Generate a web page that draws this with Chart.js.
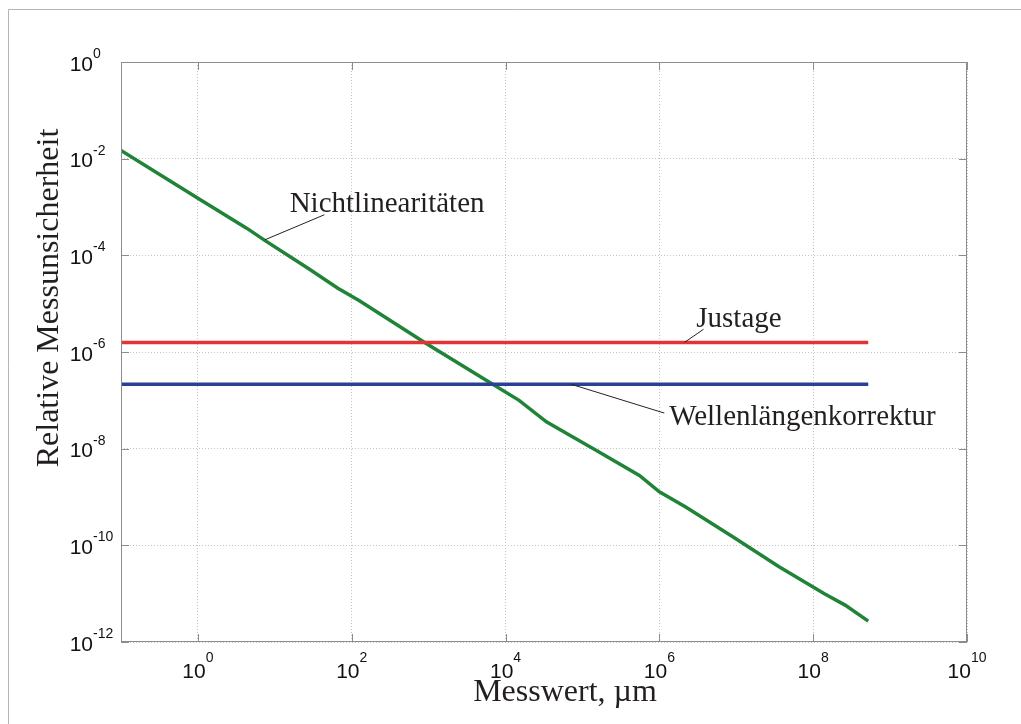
<!DOCTYPE html>
<html>
<head>
<meta charset="utf-8">
<script src="https://cdn.jsdelivr.net/npm/chart.js@4.4.1/dist/chart.umd.min.js"></script>
<style>
    body { margin: 0; background: #fff; }
    #wrap { width: 1021px; height: 724px; }
</style>
</head>
<body>
<div id="wrap"><canvas id="uncertaintyChart" width="1021" height="724"></canvas></div>
<script>
// Measured value in µm and the relative uncertainty of each contribution
const measuredValues = [0.1, 1, 4.3, 7.4, 27, 66, 126, 930, 5600, 15000, 34000, 74000,
    150000, 550000, 1e6, 2.2e6, 9e6, 3.6e7, 1.4e8, 2.6e8, 5.2e8];
const nonlinearity = [1.48e-2, 1.52e-3, 3.65e-4, 2.04e-4, 5.4e-5, 2.08e-5, 1.15e-5, 1.5e-6,
    2.6e-7, 1.0e-7, 3.6e-8, 1.76e-8, 9.3e-9, 2.8e-9, 1.28e-9, 6.2e-10, 1.5e-10, 3.6e-11,
    1.0e-11, 5.8e-12, 2.7e-12];
const adjustmentRange = [0.1, 5.2e8];
const adjustment = [1.58e-6, 1.58e-6];
const wavelengthCorrection = [2.14e-7, 2.14e-7];

// Decade ticks shown on both axes
const xTicks = [1, 1e2, 1e4, 1e6, 1e8, 1e10];
const yTicks = [1, 1e-2, 1e-4, 1e-6, 1e-8, 1e-10, 1e-12];

// Callout labels: text origin, leader start, leader end (data coordinates)
const callouts = [
    { text: 'Nichtlinearitäten', at: [15.6, 8.05e-4], from: [44, 6.9e-4], to: [7.4, 2.09e-4] },
    { text: 'Justage', at: [3.02e6, 3.34e-6], from: [3.75e6, 2.95e-6], to: [2.12e6, 1.58e-6] },
    { text: 'Wellenlängenkorrektur', at: [1.34e6, 3.07e-8], from: [1.16e6, 5.45e-8], to: [7.2e4, 2.14e-7] }
];

const textColor = '#231f20';
const serif = '"Liberation Serif", "Times New Roman", serif';
const sans = '"Liberation Sans", Arial, sans-serif';

function toPoints(xs, ys) {
    return xs.map((x, i) => ({ x: x, y: ys[i] }));
}

function drawPower(ctx, exp, x, y, align) {
    ctx.font = '21px ' + sans;
    const baseW = ctx.measureText('10').width;
    ctx.font = '14px ' + sans;
    const expText = String(exp).replace('-', '-');
    const expW = ctx.measureText(expText).width;
    let left;
    if (align === 'center') left = x - (baseW + expW) / 2;
    else left = x - baseW;
    ctx.textAlign = 'left';
    ctx.textBaseline = 'alphabetic';
    ctx.font = '21px ' + sans;
    ctx.fillText('10', left, y);
    ctx.font = '14px ' + sans;
    ctx.fillText(expText, left + baseW, y - (align === 'center' ? 16.5 : 12.5));
}

const decorations = {
    id: 'decorations',
    afterDraw(chart) {
        const ctx = chart.ctx;
        const area = chart.chartArea;
        const xs = chart.scales.x;
        const ys = chart.scales.y;
        ctx.save();

        // faint page frame
        ctx.strokeStyle = '#b4b4b4';
        ctx.lineWidth = 1;
        ctx.beginPath();
        ctx.moveTo(8.5, 724);
        ctx.lineTo(8.5, 9.5);
        ctx.lineTo(1021, 9.5);
        ctx.stroke();

        // axes box with inward ticks
        ctx.strokeStyle = '#8c8c8c';
        ctx.strokeRect(area.left + 0.5, area.top + 0.5, area.right - area.left - 1, area.bottom - area.top - 1);
        ctx.beginPath();
        xTicks.forEach(v => {
            const px = Math.round(xs.getPixelForValue(v)) + 0.5;
            ctx.moveTo(px, area.bottom);
            ctx.lineTo(px, area.bottom - 8);
            ctx.moveTo(px, area.top);
            ctx.lineTo(px, area.top + 8);
        });
        yTicks.forEach(v => {
            const py = Math.round(ys.getPixelForValue(v)) + 0.5;
            ctx.moveTo(area.left, py);
            ctx.lineTo(area.left + 8, py);
            ctx.moveTo(area.right, py);
            ctx.lineTo(area.right - 8, py);
        });
        ctx.stroke();

        // tick labels as powers of ten
        ctx.fillStyle = '#111';
        xTicks.forEach(v => {
            drawPower(ctx, Math.round(Math.log10(v)), xs.getPixelForValue(v), 678, 'center');
        });
        yTicks.forEach(v => {
            drawPower(ctx, Math.round(Math.log10(v)), 93, ys.getPixelForValue(v) + 8.5, 'left');
        });

        // axis titles
        ctx.fillStyle = textColor;
        ctx.textAlign = 'center';
        ctx.textBaseline = 'alphabetic';
        ctx.font = '32px ' + serif;
        ctx.fillText('Messwert, \u00b5m', 565, 701);
        ctx.save();
        ctx.translate(58, 298);
        ctx.rotate(-Math.PI / 2);
        ctx.font = '32px ' + serif;
        ctx.fillText('Relative Messunsicherheit', 0, 0);
        ctx.restore();

        // callouts with leader lines
        ctx.strokeStyle = '#222';
        ctx.lineWidth = 1;
        ctx.font = '29px ' + serif;
        ctx.textAlign = 'left';
        callouts.forEach(c => {
            ctx.beginPath();
            ctx.moveTo(xs.getPixelForValue(c.from[0]), ys.getPixelForValue(c.from[1]));
            ctx.lineTo(xs.getPixelForValue(c.to[0]), ys.getPixelForValue(c.to[1]));
            ctx.stroke();
            ctx.fillText(c.text, xs.getPixelForValue(c.at[0]), ys.getPixelForValue(c.at[1]));
        });
        ctx.restore();
    }
};

const ctx = document.getElementById('uncertaintyChart').getContext('2d');

const uncertaintyChart = new Chart(ctx, {
    type: 'line',
    data: {
        datasets: [
            {
                label: 'Justage',
                data: toPoints(adjustmentRange, adjustment),
                borderColor: 'rgb(226, 52, 52)',
                borderWidth: 3.5
            },
            {
                label: 'Wellenlängenkorrektur',
                data: toPoints(adjustmentRange, wavelengthCorrection),
                borderColor: 'rgb(42, 64, 150)',
                borderWidth: 3.5
            },
            {
                label: 'Nichtlinearitäten',
                data: toPoints(measuredValues, nonlinearity),
                borderColor: 'rgb(32, 132, 56)',
                borderWidth: 3.5
            }
        ]
    },
    options: {
        responsive: false,
        animation: false,
        events: [],
        elements: {
            point: { radius: 0 },
            line: { tension: 0, borderCapStyle: 'butt' }
        },
        layout: {
            padding: { left: 121, top: 62, right: 54, bottom: 82 }
        },
        plugins: {
            legend: { display: false },
            tooltip: { enabled: false }
        },
        scales: {
            x: {
                type: 'logarithmic',
                min: 0.1,
                max: 1e10,
                afterBuildTicks: scale => { scale.ticks = xTicks.map(v => ({ value: v })); },
                ticks: { display: false },
                grid: { color: '#c4c4c4', lineWidth: 1, drawTicks: false },
                border: { display: false, dash: [1, 2] }
            },
            y: {
                type: 'logarithmic',
                min: 1e-12,
                max: 1,
                afterBuildTicks: scale => { scale.ticks = yTicks.map(v => ({ value: v })); },
                ticks: { display: false },
                grid: { color: '#c4c4c4', lineWidth: 1, drawTicks: false },
                border: { display: false, dash: [1, 2] }
            }
        }
    },
    plugins: [decorations]
});
</script>
</body>
</html>
